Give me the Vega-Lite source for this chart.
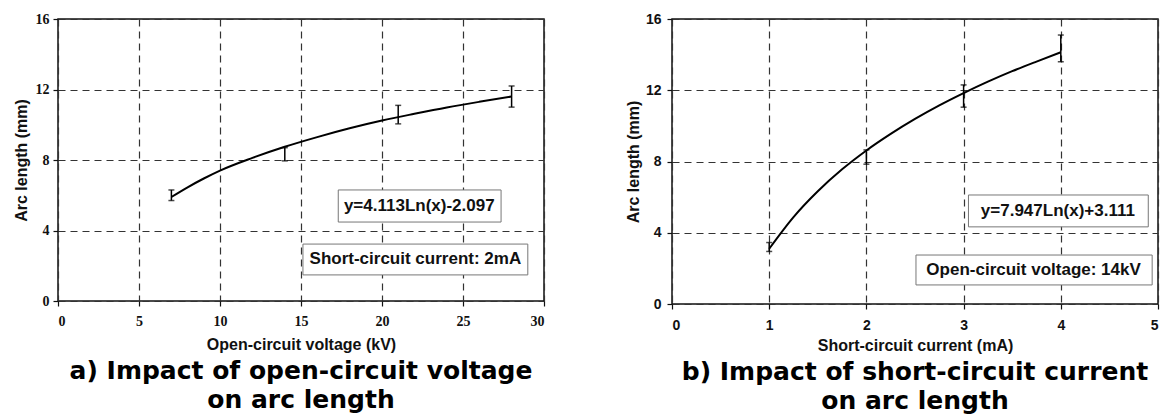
{
  "$schema": "https://vega.github.io/schema/vega-lite/v6.json",
  "background": "white",
  "padding": {"left": 12, "top": 11, "right": 0, "bottom": 0},
  "spacing": 128,
  "bounds": "flush",
  "config": {
    "view": {"stroke": "#111", "strokeWidth": 1.5},
    "axis": {
      "grid": true, "gridDash": [7, 5], "gridColor": "#333", "gridWidth": 1.2,
      "domain": false, "ticks": true, "tickColor": "#111", "tickSize": 5, "tickWidth": 1.2,
      "labelColor": "#111", "titleColor": "#111",
      "titleFont": "Liberation Sans", "titleFontSize": 16, "titleFontWeight": "bold"
    },
    "title": {"orient": "bottom", "font": "DejaVu Sans", "fontSize": 25, "fontWeight": "bold", "color": "#000", "anchor": "middle", "lineHeight": 29}
  },
  "hconcat": [
    {
      "width": 486,
      "height": 282,
      "title": {"text": ["a) Impact of open-circuit voltage", "on arc length"], "offset": 7},
      "layer": [
        {
          "data": {"values": [
            {"voltage": 7, "length": 5.9}, {"voltage": 8, "length": 6.45}, {"voltage": 9, "length": 6.95},
            {"voltage": 10, "length": 7.4}, {"voltage": 12, "length": 8.12}, {"voltage": 14, "length": 8.75},
            {"voltage": 16, "length": 9.3}, {"voltage": 18, "length": 9.8}, {"voltage": 20, "length": 10.24},
            {"voltage": 22, "length": 10.62}, {"voltage": 24, "length": 10.98}, {"voltage": 26, "length": 11.3},
            {"voltage": 28, "length": 11.6}
          ]},
          "mark": {"type": "line", "color": "#000", "strokeWidth": 2, "interpolate": "monotone"},
          "encoding": {
            "x": {"field": "voltage", "type": "quantitative", "title": "Open-circuit voltage (kV)",
                  "scale": {"domain": [0, 30], "nice": false},
                  "axis": {"values": [0, 5, 10, 15, 20, 25, 30], "format": "d", "labelFont": "Liberation Serif", "labelFontSize": 14, "labelFontWeight": "bold", "labelPadding": 8, "titlePadding": 8}},
            "y": {"field": "length", "type": "quantitative", "title": "Arc length (mm)",
                  "scale": {"domain": [0, 16], "nice": false},
                  "axis": {"values": [0, 4, 8, 12, 16], "format": "d", "labelFont": "Liberation Serif", "labelFontSize": 14, "labelFontWeight": "bold", "labelPadding": 4, "titlePadding": 6}}
          }
        },
        {
          "data": {"values": [
            {"voltage": 7, "low": 5.7, "high": 6.3}, {"voltage": 14, "low": 7.95, "high": 8.7},
            {"voltage": 21, "low": 10.05, "high": 11.1}, {"voltage": 28, "low": 11.0, "high": 12.2}
          ]},
          "mark": {"type": "errorbar", "ticks": true, "size": 6, "thickness": 1.5, "color": "#000"},
          "encoding": {
            "x": {"field": "voltage", "type": "quantitative", "title": "Open-circuit voltage (kV)"},
            "y": {"field": "low", "type": "quantitative", "title": "Arc length (mm)"},
            "y2": {"field": "high"}
          }
        },
        {
          "data": {"values": [{"label": "y=4.113Ln(x)-2.097"}]},
          "layer": [
            {
              "mark": {"type": "rect", "fill": "white", "stroke": "#777", "strokeWidth": 1},
              "encoding": {
                "x": {"datum": 17.3, "type": "quantitative"}, "x2": {"datum": 27.35},
                "y": {"datum": 6.3, "type": "quantitative"}, "y2": {"datum": 4.48}
              }
            },
            {
              "mark": {"type": "text", "font": "Liberation Sans", "fontSize": 17, "fontWeight": "bold", "color": "#111"},
              "encoding": {
                "x": {"datum": 22.3, "type": "quantitative"},
                "y": {"datum": 5.39, "type": "quantitative"},
                "text": {"field": "label"}
              }
            }
          ]
        },
        {
          "data": {"values": [{"label": "Short-circuit current: 2mA"}]},
          "layer": [
            {
              "mark": {"type": "rect", "fill": "white", "stroke": "#777", "strokeWidth": 1},
              "encoding": {
                "x": {"datum": 15.12, "type": "quantitative"}, "x2": {"datum": 29.0},
                "y": {"datum": 3.23, "type": "quantitative"}, "y2": {"datum": 1.48}
              }
            },
            {
              "mark": {"type": "text", "font": "Liberation Sans", "fontSize": 17, "fontWeight": "bold", "color": "#111"},
              "encoding": {
                "x": {"datum": 22.06, "type": "quantitative"},
                "y": {"datum": 2.36, "type": "quantitative"},
                "text": {"field": "label"}
              }
            }
          ]
        }
      ]
    },
    {
      "width": 486,
      "height": 285,
      "title": {"text": ["b) Impact of short-circuit current", "on arc length"], "offset": 7},
      "layer": [
        {
          "data": {"values": [
            {"current": 1, "length": 3.1}, {"current": 1.25, "length": 4.88}, {"current": 1.5, "length": 6.33},
            {"current": 1.75, "length": 7.56}, {"current": 2, "length": 8.62}, {"current": 2.25, "length": 9.55},
            {"current": 2.5, "length": 10.39}, {"current": 2.75, "length": 11.15}, {"current": 3, "length": 11.84},
            {"current": 3.25, "length": 12.48}, {"current": 3.5, "length": 13.07}, {"current": 3.75, "length": 13.61},
            {"current": 4, "length": 14.13}
          ]},
          "mark": {"type": "line", "color": "#000", "strokeWidth": 2, "interpolate": "monotone"},
          "encoding": {
            "x": {"field": "current", "type": "quantitative", "title": "Short-circuit current (mA)",
                  "scale": {"domain": [0, 5], "nice": false},
                  "axis": {"values": [0, 1, 2, 3, 4, 5], "format": "d", "labelFont": "Liberation Sans", "labelFontSize": 14, "labelFontWeight": "bold", "labelPadding": 9, "titlePadding": 5}},
            "y": {"field": "length", "type": "quantitative", "title": "Arc length (mm)",
                  "scale": {"domain": [0, 16], "nice": false},
                  "axis": {"values": [0, 4, 8, 12, 16], "format": "d", "labelFont": "Liberation Sans", "labelFontSize": 14, "labelFontWeight": "bold", "labelPadding": 6, "titlePadding": 4}}
          }
        },
        {
          "data": {"values": [
            {"current": 1, "low": 2.95, "high": 3.45}, {"current": 2, "low": 7.85, "high": 8.65},
            {"current": 3, "low": 11.05, "high": 12.3}, {"current": 4, "low": 13.6, "high": 15.1}
          ]},
          "mark": {"type": "errorbar", "ticks": true, "size": 6, "thickness": 1.5, "color": "#000"},
          "encoding": {
            "x": {"field": "current", "type": "quantitative", "title": "Short-circuit current (mA)"},
            "y": {"field": "low", "type": "quantitative", "title": "Arc length (mm)"},
            "y2": {"field": "high"}
          }
        },
        {
          "data": {"values": [{"label": "y=7.947Ln(x)+3.111"}]},
          "layer": [
            {
              "mark": {"type": "rect", "fill": "white", "stroke": "#777", "strokeWidth": 1},
              "encoding": {
                "x": {"datum": 3.05, "type": "quantitative"}, "x2": {"datum": 4.9},
                "y": {"datum": 6.12, "type": "quantitative"}, "y2": {"datum": 4.33}
              }
            },
            {
              "mark": {"type": "text", "font": "Liberation Sans", "fontSize": 17, "fontWeight": "bold", "color": "#111"},
              "encoding": {
                "x": {"datum": 3.97, "type": "quantitative"},
                "y": {"datum": 5.22, "type": "quantitative"},
                "text": {"field": "label"}
              }
            }
          ]
        },
        {
          "data": {"values": [{"label": "Open-circuit voltage: 14kV"}]},
          "layer": [
            {
              "mark": {"type": "rect", "fill": "white", "stroke": "#777", "strokeWidth": 1},
              "encoding": {
                "x": {"datum": 2.51, "type": "quantitative"}, "x2": {"datum": 4.94},
                "y": {"datum": 2.75, "type": "quantitative"}, "y2": {"datum": 1.07}
              }
            },
            {
              "mark": {"type": "text", "font": "Liberation Sans", "fontSize": 17, "fontWeight": "bold", "color": "#111"},
              "encoding": {
                "x": {"datum": 3.72, "type": "quantitative"},
                "y": {"datum": 1.91, "type": "quantitative"},
                "text": {"field": "label"}
              }
            }
          ]
        }
      ]
    }
  ]
}
